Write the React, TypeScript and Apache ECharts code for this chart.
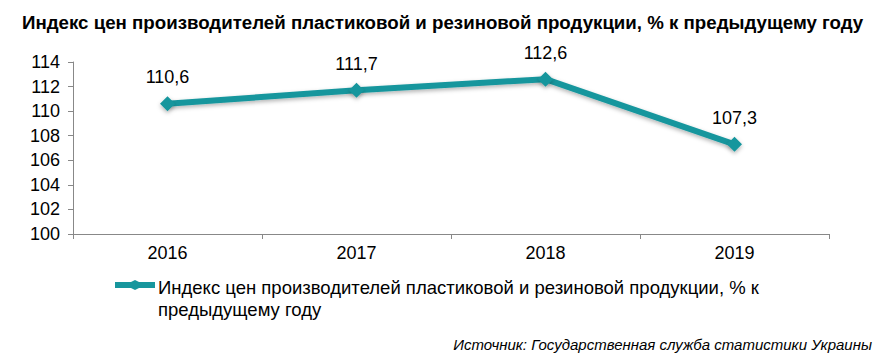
import React, { useEffect, useRef } from "react";
import * as echarts from "echarts";

const categories = ["2016", "2017", "2018", "2019"];
const values = [110.6, 111.7, 112.6, 107.3];
const seriesName = "Индекс цен производителей пластиковой и резиновой продукции, % к предыдущему году";
const legendLines = ["Индекс цен производителей пластиковой и резиновой продукции, % к", "предыдущему году"];
const titleText = "Индекс цен производителей пластиковой и резиновой продукции, % к предыдущему году";
const sourceText = "Источник: Государственная служба статистики Украины";

const COLOR = "#17969d";
const FONT = "'Liberation Sans', Arial, sans-serif";

export default function App() {
  const ref = useRef<HTMLDivElement>(null);
  useEffect(() => {
    document.body.style.margin = "0";
    const chart = echarts.init(ref.current!, null, { renderer: "svg" });
    chart.setOption({
      animation: false,
      backgroundColor: "#ffffff",
      title: {
        text: titleText,
        left: 17,
        top: 8,
        textStyle: { fontFamily: FONT, fontSize: 18.7, fontWeight: "bold", color: "#000" },
      },
      grid: { left: 73, right: 56, top: 62, bottom: 129 },
      legend: {
        left: 115,
        top: 280,
        padding: 0,
        itemWidth: 40,
        itemHeight: 10,
        icon: "path://M0,2 L16,2 L20,0 L24,2 L40,2 L40,8 L24,8 L20,10 L16,8 L0,8 Z",
        formatter: () => "",
        textStyle: { fontSize: 10 },
      },
      graphic: [
        {
          type: "text",
          x: 158,
          y: 276,
          style: {
            text: legendLines.join("\n"),
            font: `18.5px ${FONT}`,
            lineHeight: 22,
            fill: "#000",
            textAlign: "left",
            textVerticalAlign: "top",
          },
        },
        {
          type: "text",
          right: 13,
          top: 337,
          style: {
            text: sourceText,
            font: `italic 15px ${FONT}`,
            fill: "#000",
          },
        },
      ],
      xAxis: {
        type: "category",
        data: categories,
        boundaryGap: true,
        axisLine: { lineStyle: { color: "#888888", width: 1 } },
        axisTick: { show: true, length: 5, lineStyle: { color: "#888888" } },
        axisLabel: { fontFamily: FONT, fontSize: 18, color: "#000", margin: 10 },
      },
      yAxis: {
        type: "value",
        min: 100,
        max: 114,
        interval: 2,
        axisLine: { show: true, lineStyle: { color: "#888888", width: 1 } },
        axisTick: { show: true, length: 5, lineStyle: { color: "#888888" } },
        axisLabel: { fontFamily: FONT, fontSize: 18, color: "#000", margin: 13 },
        splitLine: { show: false },
      },
      series: [
        {
          name: seriesName,
          type: "line",
          data: values,
          symbol: "diamond",
          symbolSize: 15,
          color: COLOR,
          lineStyle: {
            width: 6,
            color: COLOR,
            shadowColor: "rgba(0,0,0,0.3)",
            shadowBlur: 4,
            shadowOffsetY: 2,
          },
          itemStyle: {
            color: COLOR,
            shadowColor: "rgba(0,0,0,0.3)",
            shadowBlur: 4,
            shadowOffsetY: 2,
          },
          label: {
            show: true,
            position: "top",
            distance: 10,
            fontFamily: FONT,
            fontSize: 18,
            color: "#000",
            formatter: (p: any) => String(p.value).replace(".", ","),
          },
        },
      ],
    });
    return () => chart.dispose();
  }, []);
  return <div ref={ref} style={{ width: 885, height: 363 }} />;
}
